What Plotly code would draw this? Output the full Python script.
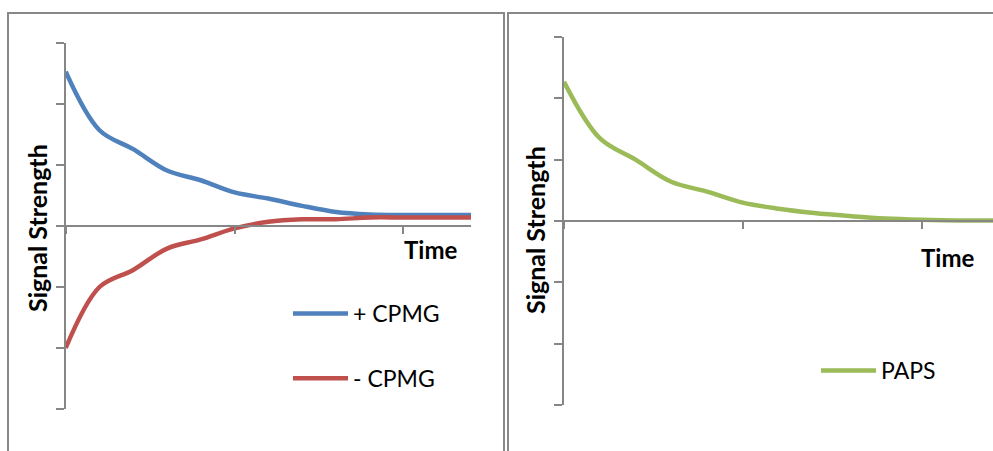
import plotly.graph_objects as go

# ---- data ----
time_pts = [0.0, 0.2, 0.4, 0.6, 0.8, 1.0, 1.2, 1.4, 1.6, 1.8, 2.0, 2.2, 2.4]
plus_cpmg = [2.53, 1.57, 1.26, 0.91, 0.75, 0.55, 0.45, 0.33, 0.23, 0.19, 0.18, 0.18, 0.18]
minus_cpmg = [-2.0, -1.0, -0.72, -0.37, -0.22, -0.04, 0.07, 0.11, 0.11, 0.14, 0.14, 0.14, 0.14]
paps = [2.27, 1.35, 1.0, 0.64, 0.48, 0.30, 0.20, 0.13, 0.08, 0.04, 0.02, 0.01, 0.01]

y_ticks = [-3, -2, -1, 0, 1, 2, 3]
x_ticks = [0, 1, 2]

W, H = 993, 451
def px(x):
    return x / W
def py(y):
    return 1 - y / H

BLUE = "#4F81BD"
RED = "#C0504D"
GREEN = "#9BBB59"
AXIS = "#868686"
FONT = "Lato"

fig = go.Figure()
fig.add_trace(go.Scatter(x=time_pts, y=plus_cpmg, mode="lines", name="+ CPMG",
                         line=dict(color=BLUE, width=4.5, shape="spline", smoothing=1.0),
                         xaxis="x", yaxis="y", legend="legend", legendgroup="a"))
fig.add_trace(go.Scatter(x=time_pts, y=minus_cpmg, mode="lines", name="- CPMG",
                         line=dict(color=RED, width=4.5, shape="spline", smoothing=1.0),
                         xaxis="x", yaxis="y", legend="legend", legendgroup="b"))
fig.add_trace(go.Scatter(x=time_pts, y=paps, mode="lines", name="PAPS",
                         line=dict(color=GREEN, width=4.5, shape="spline", smoothing=1.0),
                         xaxis="x2", yaxis="y2", legend="legend2"))

common_x = dict(range=[0, 2.4], tickvals=x_ticks, showticklabels=False, ticks="outside",
                ticklen=7, tickwidth=1.5, tickcolor=AXIS, showline=True, linecolor=AXIS,
                linewidth=1.5, showgrid=False, zeroline=False, anchor="free", fixedrange=True)
common_y = dict(range=[-3, 3], tickvals=y_ticks, showticklabels=False, ticks="outside",
                ticklen=8, tickwidth=1.5, tickcolor=AXIS, showline=True, linecolor=AXIS,
                linewidth=1.5, showgrid=False, zeroline=False, fixedrange=True)

fig.update_layout(
    width=W, height=H, margin=dict(l=0, r=0, t=0, b=0),
    paper_bgcolor="white", plot_bgcolor="rgba(0,0,0,0)",
    font=dict(family=FONT, color="black"),
    xaxis=dict(domain=[px(65.7), px(471)], position=py(226), **common_x),
    yaxis=dict(domain=[py(409), py(43)], anchor="x", **common_y),
    xaxis2=dict(domain=[px(564), 1.0], position=py(221), **common_x),
    yaxis2=dict(domain=[py(405), py(37)], anchor="x2", **common_y),
    legend=dict(x=px(288), y=py(292), xanchor="left", yanchor="top",
                bgcolor="rgba(0,0,0,0)", font=dict(family=FONT, size=23),
                tracegroupgap=32, traceorder="grouped", itemwidth=55),
    legend2=dict(x=px(816), y=py(349), xanchor="left", yanchor="top",
                 bgcolor="rgba(0,0,0,0)", font=dict(family=FONT, size=23), itemwidth=55),
    showlegend=True,
)

# panel borders
fig.add_shape(type="rect", xref="paper", yref="paper", x0=px(8), x1=px(504),
              y0=-0.1, y1=py(13), line=dict(color="#888888", width=2), layer="below")
fig.add_shape(type="rect", xref="paper", yref="paper", x0=px(508), x1=1.1,
              y0=-0.1, y1=py(13), line=dict(color="#888888", width=2), layer="below")

ann_font = dict(family=FONT, size=25, color="black")
time_font = dict(family=FONT, size=24, color="black")
fig.add_annotation(text="<b>Signal Strength</b>", xref="paper", yref="paper",
                   x=px(37), y=py(228), xanchor="center", yanchor="middle",
                   textangle=-90, showarrow=False, font=ann_font)
fig.add_annotation(text="<b>Time</b>", xref="paper", yref="paper",
                   x=px(430), y=py(249), xanchor="center", yanchor="middle",
                   showarrow=False, font=time_font)
fig.add_annotation(text="<b>Signal Strength</b>", xref="paper", yref="paper",
                   x=px(535), y=py(230), xanchor="center", yanchor="middle",
                   textangle=-90, showarrow=False, font=ann_font)
fig.add_annotation(text="<b>Time</b>", xref="paper", yref="paper",
                   x=px(947), y=py(257), xanchor="center", yanchor="middle",
                   showarrow=False, font=time_font)

fig.write_html("out.html", config={"displayModeBar": False},
               post_script="document.body.style.margin='0px';")
